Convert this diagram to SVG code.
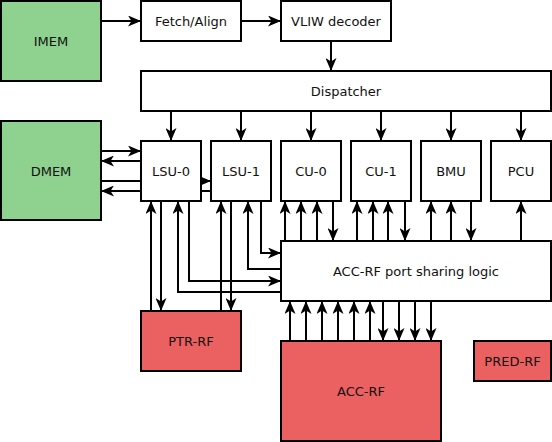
<svg xmlns="http://www.w3.org/2000/svg" width="552" height="442" viewBox="0 0 552 442">
<style>
.b{stroke:#000;stroke-width:2;fill:#fff}
.g{fill:#8fd18f}
.r{fill:#eb6060}
.t{font-family:"DejaVu Sans",sans-serif;font-size:13px;fill:#111;text-anchor:middle}
.c{fill:none;stroke:#000;stroke-width:2;marker-end:url(#a)}
</style>
<defs>
<marker id="a" markerWidth="13" markerHeight="11" refX="13" refY="5.5" orient="auto" markerUnits="userSpaceOnUse"><path d="M0,0 L13,5.5 L0,11 L3.5,5.5 z" fill="#000"/></marker>
</defs>
<rect width="552" height="442" fill="#fff"/>
<g id="connectors">
<path class="c" d="M101,21H141"/>
<path class="c" d="M241,21H281"/>
<path class="c" d="M331,41V71"/>
<path class="c" d="M171,111V141"/>
<path class="c" d="M241,111V141"/>
<path class="c" d="M311,111V141"/>
<path class="c" d="M381,111V141"/>
<path class="c" d="M451,111V141"/>
<path class="c" d="M521,111V141"/>
<path class="c" d="M101,151H141"/>
<path class="c" d="M141,161H101"/>
<path class="c" d="M101,181H211"/>
<path class="c" d="M211,191H101"/>
<path class="c" d="M151,311V201"/>
<path class="c" d="M161,201V311"/>
<path class="c" d="M281,292H178V201"/>
<path class="c" d="M189,201V281H281"/>
<path class="c" d="M221,311V201"/>
<path class="c" d="M231,201V311"/>
<path class="c" d="M281,269H248V201"/>
<path class="c" d="M261,201V253H281"/>
<path class="c" d="M285,241V201"/>
<path class="c" d="M301,241V201"/>
<path class="c" d="M317,241V201"/>
<path class="c" d="M333,201V241"/>
<path class="c" d="M357,241V201"/>
<path class="c" d="M373,241V201"/>
<path class="c" d="M388,241V201"/>
<path class="c" d="M405,201V241"/>
<path class="c" d="M431,241V201"/>
<path class="c" d="M451,241V201"/>
<path class="c" d="M471,201V241"/>
<path class="c" d="M521,241V201"/>
<path class="c" d="M290,341V301"/>
<path class="c" d="M306,341V301"/>
<path class="c" d="M322,341V301"/>
<path class="c" d="M338,341V301"/>
<path class="c" d="M354,341V301"/>
<path class="c" d="M370,341V301"/>
<path class="c" d="M383,301V341"/>
<path class="c" d="M399,301V341"/>
<path class="c" d="M415,301V341"/>
<path class="c" d="M431,301V341"/>
</g>
<g id="imem"><rect class="b g" x="1" y="1" width="100" height="80"/><text class="t" x="51" y="45.5">IMEM</text></g>
<g id="fetch"><rect class="b" x="141" y="1" width="100" height="40"/><text class="t" x="191" y="25.5">Fetch/Align</text></g>
<g id="vliw"><rect class="b" x="281" y="1" width="110" height="40"/><text class="t" x="336" y="25.5">VLIW decoder</text></g>
<g id="dispatcher"><rect class="b" x="141" y="71" width="410" height="40"/><text class="t" x="346" y="95.5">Dispatcher</text></g>
<g id="dmem"><rect class="b g" x="1" y="121" width="100" height="99"/><text class="t" x="51" y="175.5">DMEM</text></g>
<g id="lsu0"><rect class="b" x="141" y="141" width="60" height="60"/><text class="t" x="171" y="175.5">LSU-0</text></g>
<g id="lsu1"><rect class="b" x="211" y="141" width="60" height="60"/><text class="t" x="241" y="175.5">LSU-1</text></g>
<g id="cu0"><rect class="b" x="281" y="141" width="60" height="60"/><text class="t" x="311" y="175.5">CU-0</text></g>
<g id="cu1"><rect class="b" x="351" y="141" width="60" height="60"/><text class="t" x="381" y="175.5">CU-1</text></g>
<g id="bmu"><rect class="b" x="421" y="141" width="60" height="60"/><text class="t" x="451" y="175.5">BMU</text></g>
<g id="pcu"><rect class="b" x="491" y="141" width="60" height="60"/><text class="t" x="521" y="175.5">PCU</text></g>
<g id="logic"><rect class="b" x="281" y="241" width="270" height="60"/><text class="t" x="416" y="275.5">ACC-RF port sharing logic</text></g>
<g id="ptrrf"><rect class="b r" x="141" y="311" width="100" height="60"/><text class="t" x="191" y="345.5">PTR-RF</text></g>
<g id="accrf"><rect class="b r" x="281" y="341" width="160" height="100"/><text class="t" x="361" y="395.5">ACC-RF</text></g>
<g id="predrf"><rect class="b r" x="474" y="341" width="77" height="40"/><text class="t" x="512.5" y="365.5">PRED-RF</text></g>
</svg>
